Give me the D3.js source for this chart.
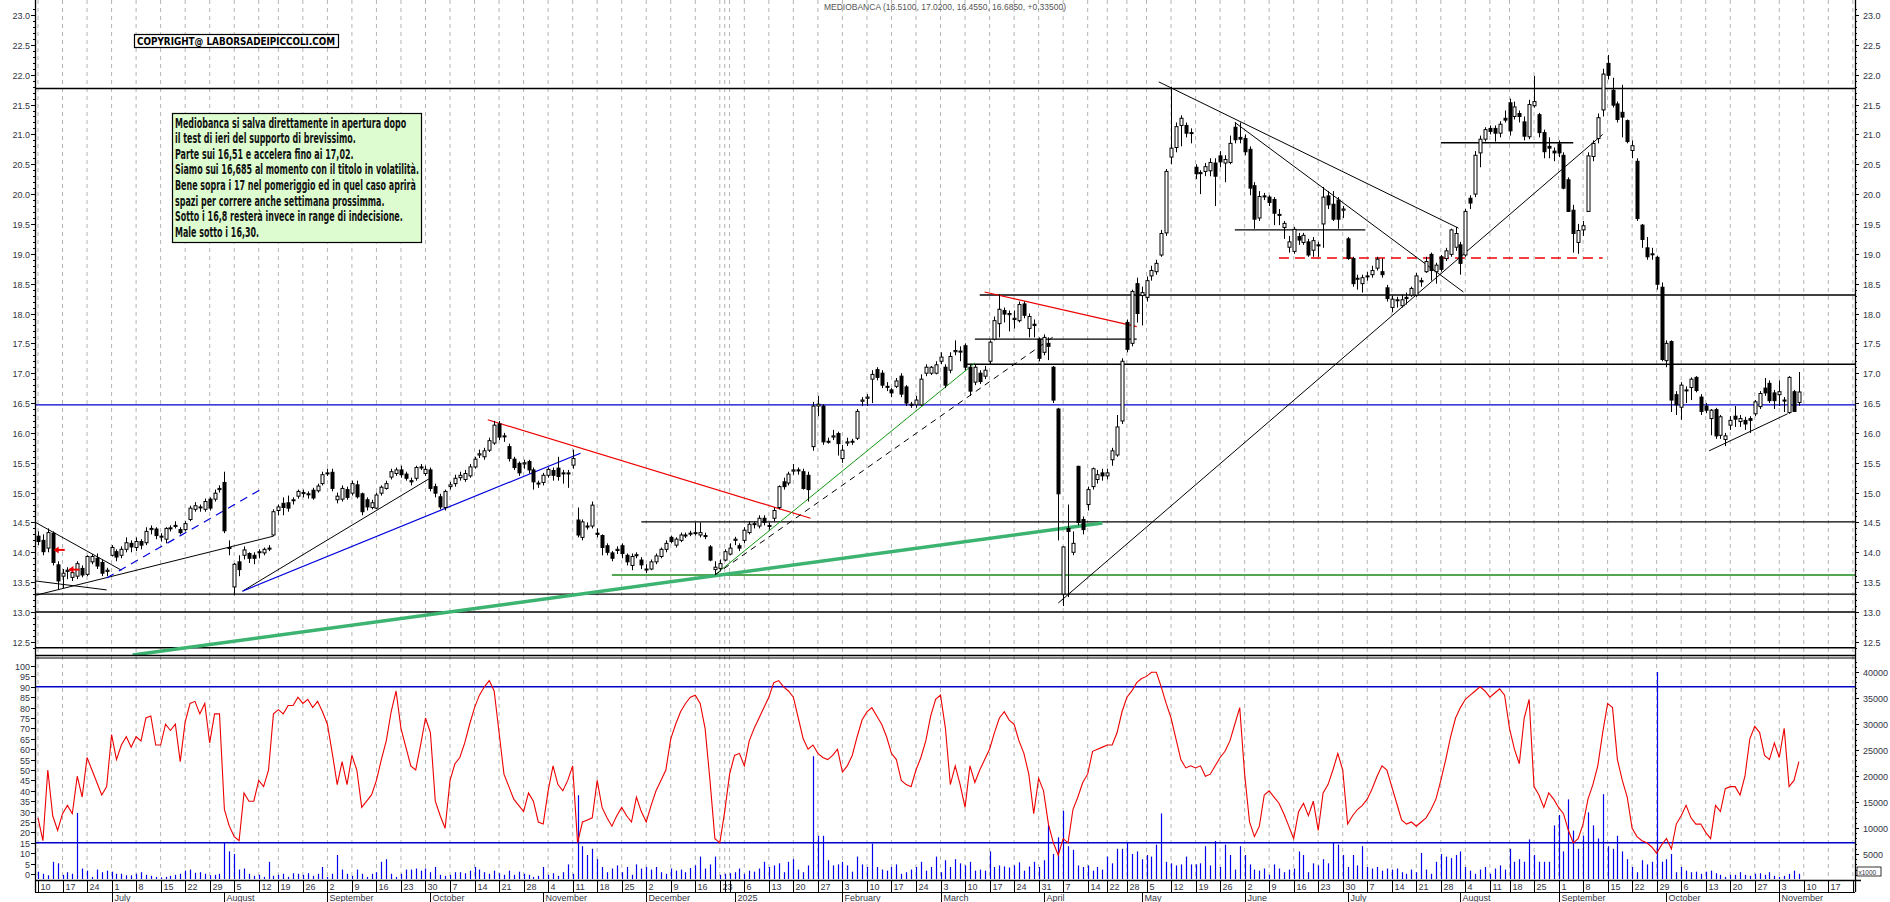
<!DOCTYPE html>
<html><head><meta charset="utf-8">
<script src="https://cdn.jsdelivr.net/npm/d3@7/dist/d3.min.js"></script>
<style>body{margin:0;background:#fff}svg{display:block}</style>
</head><body><svg id="c" width="1890" height="902"></svg>
<script>
// ---------------- DATA ----------------
const startDate = "2024-06-10";
const holidays = ["2024-08-15","2024-12-24","2024-12-25","2024-12-26","2024-12-31","2025-01-01","2025-04-18","2025-04-21","2025-05-01","2025-08-15"];
const title = "MEDIOBANCA (16.5100, 17.0200, 16.4550, 16.6850, +0.33500)";
const copyright = "COPYRIGHT@ LABORSADEIPICCOLI.COM";
const commentLines = [
"Mediobanca si salva direttamente in apertura dopo",
"il test di ieri del supporto di brevissimo.",
"Parte sui 16,51 e accelera fino ai 17,02.",
"Siamo sui 16,685 al momento con il titolo in volatilità.",
"Bene sopra i 17 nel pomeriggio ed in quel caso aprirà",
"spazi per correre anche settimana prossimma.",
"Sotto i 16,8 resterà invece in range di indecisione.",
"Male sotto i 16,30."];
// OHLC [open, high, low, close]
const ohlc = [
[14.27,14.35,14.12,14.18],[14.2,14.3,13.95,14.01],[14.07,14.4,14.0,14.33],[14.32,14.35,13.78,13.83],[13.79,13.85,13.38,13.52],
[13.6,13.72,13.4,13.65],[13.68,13.75,13.55,13.7],[13.58,13.72,13.52,13.66],[13.6,13.85,13.55,13.81],[13.73,13.78,13.58,13.62],
[13.63,13.95,13.6,13.93],[13.84,13.97,13.8,13.93],[13.9,13.98,13.72,13.77],[13.83,13.88,13.6,13.65],[13.68,13.74,13.6,13.7],
[13.95,14.12,13.93,14.08],[14.01,14.05,13.85,13.92],[13.95,14.1,13.9,14.05],[14.05,14.25,14.0,14.16],[14.15,14.2,14.0,14.09],
[14.08,14.25,14.02,14.18],[14.18,14.22,14.05,14.12],[14.16,14.42,14.12,14.35],[14.38,14.45,14.3,14.4],[14.39,14.42,14.22,14.28],
[14.26,14.32,14.18,14.27],[14.22,14.42,14.15,14.4],[14.4,14.45,14.35,14.41],[14.44,14.52,14.4,14.45],[14.38,14.42,14.3,14.33],
[14.38,14.52,14.35,14.48],[14.55,14.78,14.52,14.74],[14.72,14.84,14.68,14.78],[14.75,14.8,14.68,14.76],[14.72,14.9,14.68,14.85],
[14.89,14.92,14.7,14.74],[14.89,15.05,14.85,14.99],[15.05,15.12,15.0,15.07],[15.17,15.35,14.32,14.36],[14.08,14.2,13.95,14.08],
[13.42,13.82,13.28,13.8],[13.84,13.95,13.6,13.71],[13.95,14.1,13.88,14.04],[13.98,14.0,13.82,13.9],[13.95,14.0,13.8,13.9],
[14.0,14.05,13.9,14.01],[13.99,14.08,13.95,14.05],[14.06,14.12,14.02,14.07],[14.29,14.72,14.27,14.68],[14.7,14.8,14.62,14.76],
[14.82,14.92,14.62,14.75],[14.83,14.95,14.68,14.74],[14.87,14.92,14.8,14.88],[14.94,15.05,14.9,15.02],[15.0,15.05,14.92,14.99],
[14.98,15.02,14.9,14.98],[15.04,15.08,14.88,14.91],[15.03,15.15,15.0,15.11],[15.15,15.35,15.12,15.3],[15.32,15.4,15.28,15.33],
[15.34,15.4,15.02,15.07],[14.88,15.0,14.82,14.94],[14.89,15.12,14.85,15.07],[15.05,15.1,14.88,14.92],[14.99,15.2,14.95,15.15],
[15.13,15.2,14.9,14.93],[14.98,15.0,14.62,14.68],[14.88,14.92,14.7,14.76],[14.75,14.88,14.72,14.83],[14.74,15.0,14.72,14.96],
[14.99,15.12,14.95,15.09],[15.07,15.2,15.05,15.15],[15.26,15.4,15.22,15.35],[15.32,15.42,15.28,15.38],[15.38,15.45,15.25,15.3],
[15.31,15.35,15.2,15.24],[15.2,15.25,15.12,15.18],[15.24,15.45,15.2,15.42],[15.42,15.48,15.38,15.43],[15.32,15.45,15.28,15.39],
[15.38,15.42,15.02,15.07],[15.1,15.15,14.92,14.99],
[14.93,14.98,14.72,14.76],[14.75,15.05,14.7,15.02],[15.1,15.18,15.05,15.13],[15.15,15.3,15.1,15.24],[15.25,15.35,15.2,15.29],
[15.22,15.38,15.18,15.32],[15.28,15.48,15.25,15.43],[15.43,15.6,15.4,15.56],[15.63,15.72,15.58,15.65],[15.6,15.75,15.55,15.7],
[15.71,15.92,15.68,15.87],[15.83,16.2,15.8,16.13],[16.15,16.2,15.88,15.93],[15.95,16.0,15.85,15.94],[15.77,15.82,15.52,15.57],
[15.56,15.6,15.38,15.42],[15.49,15.52,15.28,15.33],[15.48,15.55,15.4,15.5],[15.52,15.55,15.32,15.38],[15.38,15.42,15.05,15.18],
[15.15,15.2,15.08,15.16],[15.17,15.33,15.12,15.29],[15.29,15.42,15.25,15.39],[15.37,15.42,15.2,15.29],[15.41,15.6,15.2,15.27],
[15.33,15.38,15.15,15.32],[15.32,15.38,15.08,15.33],[15.46,15.72,15.4,15.57],[14.54,14.75,14.25,14.29],[14.25,14.55,14.2,14.51],
[14.44,14.5,14.38,14.43],[14.44,14.85,14.4,14.79],[14.32,14.4,14.25,14.3],[14.28,14.3,13.95,14.08],[14.11,14.15,13.95,14.0],
[13.99,14.02,13.85,13.9],[14.03,14.1,13.97,14.05],[14.11,14.15,13.9,13.98],[13.95,13.98,13.78,13.84],[13.78,13.98,13.7,13.93],
[13.95,14.0,13.9,13.96],[13.87,13.92,13.72,13.79],[13.72,13.8,13.65,13.71],[13.72,13.88,13.7,13.84],[13.84,13.98,13.8,13.94],
[13.93,14.08,13.9,14.05],[14.05,14.2,14.0,14.15],[14.25,14.28,14.15,14.18],[14.12,14.25,14.08,14.22],[14.2,14.33,14.17,14.29],
[14.28,14.33,14.24,14.29],[14.31,14.36,14.27,14.32],[14.32,14.5,14.28,14.33],[14.29,14.5,14.25,14.33],[14.28,14.33,14.22,14.27],
[14.09,14.12,13.85,13.87],[13.71,13.85,13.62,13.75],[13.73,13.88,13.68,13.81],[13.87,14.05,13.85,14.01],[13.97,14.15,13.95,14.07],
[14.2,14.26,14.12,14.22],[14.11,14.15,14.02,14.07],[14.2,14.42,14.15,14.37],[14.33,14.52,14.3,14.47],[14.47,14.52,14.4,14.48],
[14.44,14.62,14.4,14.57],[14.57,14.62,14.45,14.5],[14.45,14.5,14.38,14.44],[14.57,14.75,14.52,14.7],[14.75,15.12,14.72,15.1],
[15.18,15.25,15.05,15.1],[15.16,15.35,15.12,15.31],[15.36,15.48,15.3,15.38],[15.38,15.42,15.3,15.37],[15.35,15.4,15.05,15.07],
[15.29,15.35,14.85,15.05],[15.77,16.52,15.7,16.45],[16.45,16.62,16.28,16.48],[16.45,16.48,15.8,15.85],[15.86,15.92,15.82,15.85],
[15.93,16.05,15.88,15.95],[15.99,16.02,15.62,15.82],[15.57,15.8,15.5,15.71],[15.83,15.92,15.78,15.85],[15.85,15.9,15.8,15.86],
[15.91,16.4,15.88,16.36],
[16.53,16.6,16.45,16.55],[16.58,16.65,16.45,16.6],[16.9,17.05,16.5,16.98],[17.06,17.1,16.88,16.93],[17.0,17.05,16.75,16.8],
[16.78,16.85,16.7,16.77],[16.72,16.75,16.6,16.67],[16.78,16.92,16.75,16.87],[16.95,17.0,16.6,16.65],[16.77,16.8,16.45,16.5],
[16.48,16.52,16.42,16.47],[16.47,16.62,16.42,16.55],[16.47,16.98,16.45,16.9],[17.0,17.15,16.95,17.1],[17.0,17.12,16.97,17.1],
[17.0,17.2,16.98,17.14],[17.2,17.35,17.15,17.27],[17.1,17.15,16.75,16.8],[17.05,17.35,17.0,17.28],[17.36,17.55,17.3,17.38],
[17.36,17.45,17.2,17.37],[17.46,17.5,17.05,17.1],[17.1,17.15,16.62,16.7],[16.85,17.15,16.8,17.1],[17.0,17.05,16.82,16.86],
[16.95,17.12,16.9,17.05],[17.2,17.55,17.15,17.52],[17.57,17.95,17.55,17.88],[17.83,18.32,17.6,18.07],[18.05,18.1,17.85,17.99],
[17.98,18.05,17.7,18.0],[17.9,18.05,17.75,17.92],[17.88,18.2,17.85,18.15],[18.16,18.2,17.92,17.97],[17.75,18.0,17.6,17.95],
[17.82,17.9,17.6,17.8],[17.57,17.6,17.2,17.25],[17.35,17.65,17.3,17.6],[17.5,17.6,17.22,17.45],[17.1,17.12,16.5,16.55],
[16.4,16.42,14.2,14.98],[13.3,14.1,13.1,14.09],[14.4,14.8,13.25,14.35],[14.0,14.35,13.95,14.15],[15.44,15.45,14.45,14.5],
[14.55,14.6,14.3,14.38],[14.8,15.1,14.7,15.05],[15.1,15.42,15.05,15.4],[15.22,15.38,15.15,15.3],[15.33,15.4,15.2,15.28],
[15.28,15.4,15.22,15.33],[15.55,15.75,15.45,15.7],[15.63,16.3,15.6,16.1],[16.2,17.25,16.15,17.2],[17.85,17.9,17.35,17.4],
[17.5,18.4,17.45,18.37],[18.5,18.6,17.85,18.0],[18.3,18.45,17.8,18.35],[18.27,18.62,18.2,18.55],
[18.63,18.8,18.55,18.72],[18.7,18.9,18.65,18.84],[18.98,19.4,18.95,19.34],[19.35,20.42,19.3,20.38],[20.62,21.8,20.5,20.77],
[20.78,21.2,20.7,21.13],[21.15,21.32,20.8,21.27],[21.15,21.2,20.95,21.02],[21.03,21.1,20.85,21.02],[20.45,20.5,20.25,20.34],
[20.36,20.4,20.0,20.35],[20.38,20.52,20.3,20.46],[20.39,20.6,20.3,20.53],[20.52,20.6,19.8,20.3],[20.64,20.72,20.45,20.54],
[20.52,20.65,20.2,20.58],[20.53,20.98,20.5,20.85],[21.12,21.2,20.85,20.91],[20.95,21.2,20.85,20.92],[20.93,21.0,20.65,20.71],
[20.75,20.8,19.98,20.1],[20.14,20.2,19.42,19.58],[19.6,20.05,19.55,19.96],[19.96,20.02,19.9,19.97],[19.95,19.98,19.8,19.86],
[19.91,19.95,19.48,19.68],[19.66,19.75,19.48,19.65],[19.44,19.55,19.25,19.51],[19.11,19.3,19.02,19.2],[19.04,19.45,19.0,19.41],
[19.29,19.35,19.15,19.23],[19.19,19.35,19.15,19.31],[19.2,19.25,18.95,18.98],[19.06,19.28,18.95,19.22],[19.15,19.2,18.95,19.14],
[19.5,20.12,19.1,19.95],[19.97,20.05,19.75,19.82],[19.83,20.05,19.55,19.58],[19.9,19.95,19.42,19.58],[19.73,19.8,19.6,19.75],
[19.25,19.28,18.9,18.92],[18.92,18.95,18.45,18.5],[18.58,18.65,18.4,18.59],[18.5,18.65,18.35,18.6],[18.62,18.7,18.55,18.63],
[18.65,18.8,18.6,18.72],[18.76,18.95,18.72,18.91],[18.7,18.92,18.6,18.65],[18.43,18.48,18.2,18.25],[18.1,18.3,18.02,18.24],
[18.22,18.28,18.1,18.23],[18.13,18.32,18.1,18.23],[18.27,18.35,18.15,18.25],[18.31,18.45,18.28,18.42],[18.31,18.68,18.28,18.63],
[18.55,18.6,18.45,18.53],[18.7,18.95,18.68,18.87],[18.99,19.02,18.55,18.72],[18.7,18.85,18.5,18.81],[18.95,18.98,18.7,18.74],
[18.92,19.1,18.88,19.05],[18.99,19.42,18.95,19.4],[19.11,19.45,19.05,19.34],[19.15,19.2,18.65,18.84],[18.98,19.75,18.95,19.71],
[19.93,19.98,19.75,19.85],[20.0,20.72,19.95,20.65],[20.69,20.98,20.45,20.92],[20.92,21.12,20.88,21.08],[21.1,21.15,21.0,21.05],
[21.1,21.15,20.88,21.02],[21.02,21.22,20.95,21.17],[21.27,21.4,21.2,21.24],[21.53,21.6,20.98,21.06],[21.3,21.55,21.25,21.46],
[21.35,21.4,21.2,21.3],[21.21,21.3,20.9,20.97],[20.96,21.58,20.92,21.5],[21.48,21.98,21.45,21.55],[21.33,21.36,20.95,21.03],
[21.03,21.08,20.6,20.71],[20.8,20.95,20.6,20.77],[20.72,20.78,20.55,20.69],[20.84,20.9,20.62,20.69],[20.65,20.7,20.08,20.1],
[20.24,20.28,19.7,19.71],[19.73,19.82,19.02,19.34],[19.19,19.5,19.0,19.39],[19.4,19.55,19.3,19.47],[19.71,20.7,19.7,20.64],
[20.63,20.9,20.55,20.85],[20.93,21.35,20.85,21.28],[21.41,22.1,21.3,22.01],[22.19,22.33,21.92,21.99],[21.74,21.95,21.45,21.49],
[21.51,21.55,21.2,21.25],[21.37,21.83,20.95,21.29],[21.23,21.25,20.85,20.88],[20.73,20.9,20.6,20.81],[20.55,20.6,19.55,19.59],
[19.48,19.5,19.1,19.24],[19.1,19.28,18.9,18.95],[19.0,19.1,18.9,19.0],[18.94,18.97,18.4,18.49],[18.44,18.52,17.2,17.23],
[17.21,17.55,17.1,17.5],[17.53,17.55,16.35,16.55],
[16.64,16.7,16.3,16.47],[16.43,16.85,16.22,16.8],[16.72,16.78,16.5,16.71],[16.76,16.93,16.55,16.9],[16.93,16.95,16.68,16.71],
[16.6,16.65,16.3,16.36],[16.45,16.5,16.33,16.38],[16.24,16.4,15.96,16.38],[16.39,16.42,15.9,15.95],[15.96,16.3,15.9,16.27],
[15.89,16.0,15.78,15.95],[16.13,16.28,16.05,16.21],[16.28,16.45,16.1,16.23],[16.19,16.3,16.1,16.24],[16.21,16.27,16.05,16.15],
[16.24,16.28,16.0,16.21],[16.32,16.55,16.28,16.52],[16.44,16.7,16.4,16.66],[16.75,16.92,16.62,16.67],[16.83,16.88,16.5,16.54],
[16.67,16.72,16.4,16.54],[16.64,16.88,16.45,16.69],[16.55,16.6,16.35,16.54],[16.34,16.95,16.32,16.93],[16.69,16.72,16.35,16.36],
[16.51,17.02,16.455,16.685]];
// Stochastic oscillator (red line)
const stoch = [
27,16,50,28,21,29,33,29,47,37, 56,50,44,38,42,67,55,62,66,61, 66,64,75,76,62,62,72,69,72,54,
73,82,83,77,82,63,77,77,31,23, 18,16,39,35,35,45,42,50,77,79, 77,81,81,85,82,84,80,83,78,72,
58,43,54,43,57,50,32,35,38,45, 55,64,78,88,70,61,52,50,62,75, 68,35,28,22,45,53,56,63,72,80,
86,90,93,88,68,48,42,36,33,30, 39,35,25,24,40,52,43,40,45,52, 15,25,26,27,45,32,27,23,28,32,
28,25,37,30,25,33,40,45,50,65, 72,78,82,85,86,82,70,45,17,15, 30,48,57,58,52,64,70,75,80,85,
92,93,90,88,85,75,65,60,62,58, 56,55,57,60,49,52,57,66,74,78, 80,76,72,66,58,55,45,43,42,50,
56,64,76,84,86,70,43,52,43,32, 52,44,50,55,60,68,75,78,74,72, 64,58,48,29,46,40,24,15,9,17,
15,31,37,44,48,59,60,61,62,62, 68,78,85,88,92,94,95,97,97,90, 82,75,65,55,51,52,51,52,47,48,
52,56,59,64,72,80,48,25,18,23, 38,40,37,34,29,23,17,30,34,28, 35,21,39,43,50,58,50,24,28,31,
33,36,41,47,52,50,42,34,26,24, 25,23,25,27,31,36,45,55,66,75, 80,84,86,88,90,88,85,87,89,86,
70,60,53,75,84,42,38,32,39,36, 32,29,21,15,17,24,36,43,52,68, 82,80,55,45,37,22,18,16,15,13,
10,14,17,12,24,28,33,27,24,24, 20,17,33,30,41,42,42,38,47,65, 71,68,57,55,63,56,70,42,45,54];
// Volume, thousands of shares
const volume = [
1.6,1.2,0.9,3.5,3.2,1.0,1.5,1.2,12.9,2.2, 1.8,0.6,2.0,1.5,1.8,1.6,1.2,1.2,0.9,0.9,
1.2,1.5,1.0,0.8,0.6,0.5,0.6,0.8,1.0,1.2, 1.8,2.0,1.4,1.5,1.2,0.9,1.0,1.2,7.2,5.5,
5.0,2.0,2.2,1.2,0.8,1.0,0.6,3.5,0.8,1.0, 1.2,0.6,1.3,1.2,1.0,1.3,0.8,1.2,2.5,0.6,
1.2,4.8,2.0,1.2,0.8,2.0,1.2,0.6,1.2,1.5, 3.5,4.0,1.2,0.6,1.2,2.0,2.0,2.2,1.8,2.2,
1.5,2.5,1.0,0.8,1.0,1.5,1.5,1.3,1.8,2.5, 2.0,1.5,1.2,1.8,1.3,1.0,1.8,1.0,1.6,1.2,
1.0,0.6,0.8,2.5,1.0,1.3,0.8,1.5,3.0,1.2, 16.3,6.5,4.8,6.0,4.0,2.5,1.5,2.2,2.8,1.5,
2.5,1.0,3.0,2.2,2.5,2.0,2.5,1.5,1.2,2.2, 1.8,2.0,1.5,2.3,2.8,4.5,2.2,3.0,4.5,1.0,
1.2,1.3,1.5,2.2,1.2,1.8,1.6,2.2,3.5,2.5, 2.8,3.2,1.5,3.5,4.0,2.0,1.5,2.8,23.8,8.5,
8.5,3.8,2.8,3.0,3.5,2.8,1.6,4.5,3.0,2.5, 7.0,2.5,2.0,1.8,2.5,3.0,1.2,1.5,2.0,2.5,
3.5,1.8,2.5,4.5,1.5,3.8,2.5,4.0,3.2,2.8, 3.5,1.8,2.0,1.8,5.5,2.5,2.8,2.6,2.4,2.8,
3.4,1.8,2.6,3.5,2.5,3.8,10.5,5.0,8.2,13.3, 6.5,5.8,2.8,2.5,2.8,1.8,2.5,2.0,4.5,3.2,
6.0,6.0,7.2,5.0,5.5,4.0,4.8,4.5,6.8,12.8, 3.5,3.2,2.8,3.0,4.5,3.0,3.0,3.2,6.5,2.8,
7.5,2.5,6.8,4.8,2.0,6.5,4.8,3.0,2.0,1.8, 2.2,1.0,3.0,2.2,1.5,2.0,2.2,5.5,4.8,1.5,
3.2,2.8,4.0,3.2,7.2,6.8,4.8,2.5,4.8,2.8, 6.5,2.5,2.2,2.5,1.8,2.2,2.0,2.2,1.5,1.2,
2.0,1.5,5.2,2.0,1.2,3.5,5.0,4.5,4.2,4.8, 5.5,2.5,1.8,1.2,2.0,2.5,1.2,2.2,2.8,2.0,
6.0,3.5,4.0,3.5,7.8,4.8,3.5,3.5,3.5,10.5, 12.5,5.5,15.5,9.5,6.0,8.5,13.0,10.5,8.0,16.5,
6.5,6.0,8.5,5.5,4.0,2.5,1.5,3.8,3.0,3.5, 40.0,3.5,4.0,5.0,1.5,2.5,1.8,1.5,1.6,1.2,
1.6,1.8,1.3,1.0,0.6,1.0,1.0,1.5,1.0,0.8, 1.2,1.3,1.0,1.5,0.8,0.6,0.8,1.2,1.8,1.2];
// horizontal levels: [value, fromIndex, toIndex] (null = chart edge)
const blackLevels = [[21.77,null,null],[18.31,192,null],[17.15,189,null],[17.57,191,224],[14.51,123,null],[13.3,null,null],[13.0,null,null],[12.4,null,null],[19.4,244,270.6],[20.86,286,313]];
const blueLevels = [[16.47,null,null]];
const greenLevels = [[13.62,117,null]];
const redDashLevels = [[18.93,253,319]];
// trend lines: [i1, v1, i2, v2]
const blackTrends = [[-0.5,14.5,17,13.7],[-0.5,13.52,14,13.37],[-0.5,13.28,48,14.27],[41.7,13.35,79.7,15.23],[208,13.15,319,21.0],[228.5,21.88,289.6,19.43],[244,21.2,290.6,18.36],[340.7,15.7,356.7,16.32]];
const blueTrends = [[41.7,13.35,110.6,15.66]];
const blueDashTrends = [[14,13.57,46,15.08]];
const redTrends = [[91.7,16.22,157.5,14.57],[193,18.36,224,17.78]];
const greenThickTrends = [[19.3,12.28,217,14.49]];
const greenThinTrends = [[138,13.62,191,17.17]];
const blackDashTrends = [[138,13.62,207.7,17.65]];
const redArrows = [[3,14.04],[6,13.71]];
const stochLevels = [90,15];

// ---------------- CALENDAR ----------------
const hol = new Set(holidays);
const days = [];
{ let d = new Date(startDate+"T12:00:00Z");
  while (days.length < 375) {
    const wd = d.getUTCDay(), s = d.toISOString().slice(0,10);
    if (wd>0 && wd<6 && !hol.has(s)) days.push(new Date(d));
    d = new Date(d.getTime()+86400000);
  } }

// ---------------- SCALES ----------------
const L = 35, R = 1855;
const x = d3.scaleLinear().domain([0,1]).range([38,38+4.905]);
const y = d3.scaleLinear().domain([13,23]).range([612,15]);
const ys = d3.scaleLinear().domain([0,100]).range([874,666]);
const yv = d3.scaleLinear().domain([0,40]).range([880,672]);
const svg = d3.select("#c");
svg.append("rect").attr("width",1890).attr("height",902).attr("fill","#fff");
const font = "Liberation Sans, Arial, sans-serif";
const narrow = "Liberation Sans Narrow, Arial Narrow, DejaVu Sans Condensed, sans-serif";
svg.append("clipPath").attr("id","pc").append("rect").attr("x",L).attr("y",0).attr("width",R-L).attr("height",655);
svg.append("clipPath").attr("id","lc").append("rect").attr("x",L).attr("y",657).attr("width",R-L).attr("height",223);

// weekly gridlines
const weekStarts = days.map((d,i)=>({d,i})).filter((o,k,a)=>k===0 || o.d.getUTCDay() < a[k-1].d.getUTCDay() || (o.d - a[k-1].d) > 3*86400000);
const grid = svg.append("g");
weekStarts.forEach(o=>{ const xx = x(o.i); if (xx>R) return;
  grid.append("line").attr("x1",xx).attr("x2",xx).attr("y1",0).attr("y2",880).attr("stroke","#b4b4b4").attr("stroke-dasharray","4,4");
});

// ---------------- PRICE PANEL ----------------
const P = svg.append("g").attr("clip-path","url(#pc)");
function levels(arr, color, w, dash){
  arr.forEach(([v,a,b])=>{ P.append("line").attr("x1", a===null?L:x(a)).attr("x2", b===null?R:x(b)).attr("y1",y(v)).attr("y2",y(v))
    .attr("stroke",color).attr("stroke-width",w).attr("stroke-dasharray",dash||null); });
}
function trends(arr, color, w, dash){
  arr.forEach(([a,v1,b,v2])=>{ P.append("line").attr("x1",x(a)).attr("y1",y(v1)).attr("x2",x(b)).attr("y2",y(v2))
    .attr("stroke",color).attr("stroke-width",w).attr("stroke-dasharray",dash||null); });
}
levels(blackLevels,"#000",1.4);
levels(greenLevels,"#1a8a1a",1.4);
levels(blueLevels,"#0000cc",1.4);
levels(redDashLevels,"#ee0000",1.6,"10,6");
trends(greenThickTrends,"#3cb371",3.5);
trends(blackTrends,"#000",1);
trends(blueTrends,"#0000dd",1.2);
trends(blueDashTrends,"#0000dd",1.2,"8,6");
trends(redTrends,"#ee0000",1.2);
trends(greenThinTrends,"#119911",1);
trends(blackDashTrends,"#000",1,"6,5");

// candles
const cg = P.append("g");
ohlc.forEach((c,i)=>{ const [o,h,l,cl]=c, xx = Math.round(x(i))+0.5;
  cg.append("line").attr("x1",xx).attr("x2",xx).attr("y1",y(h)).attr("y2",y(l)).attr("stroke","#000");
  const top = y(Math.max(o,cl)), bot = y(Math.min(o,cl));
  cg.append("rect").attr("x",xx-1.5).attr("y",top).attr("width",3).attr("height",Math.max(1,bot-top))
    .attr("fill", cl>=o ? "#fff" : "#000").attr("stroke","#000").attr("stroke-width",1);
});
redArrows.forEach(([i,v])=>{ const x0 = x(i)+2, yy=y(v);
  P.append("line").attr("x1",x0).attr("x2",x0+10).attr("y1",yy).attr("y2",yy).attr("stroke","#ee0000").attr("stroke-width",2);
  P.append("path").attr("d",`M${x0-1},${yy} L${x0+4},${yy-3.5} L${x0+4},${yy+3.5}Z`).attr("fill","#ee0000");
});
svg.append("line").attr("x1",L).attr("x2",R).attr("y1",655.5).attr("y2",655.5).attr("stroke","#000").attr("stroke-width",1.5);

// ---------------- LOWER PANEL ----------------
const Lp = svg.append("g").attr("clip-path","url(#lc)");
volume.forEach((v,i)=>{ const xx=Math.round(x(i))+0.5;
  Lp.append("line").attr("x1",xx).attr("x2",xx).attr("y1",879).attr("y2",yv(v)).attr("stroke","#0000ee").attr("stroke-width",1.2); });
stochLevels.forEach(v=> Lp.append("line").attr("x1",L).attr("x2",R).attr("y1",ys(v)).attr("y2",ys(v)).attr("stroke","#0000cc").attr("stroke-width",1.4));
Lp.append("path").datum(stoch).attr("fill","none").attr("stroke","#ee0000").attr("stroke-width",1.1)
  .attr("d", d3.line().x((d,i)=>x(i)).y(d=>ys(d)));

// ---------------- AXES ----------------
const ax = svg.append("g").attr("font-family",font).attr("font-size",9).attr("fill","#334");
ax.append("line").attr("x1",L+0.5).attr("x2",L+0.5).attr("y1",0).attr("y2",892).attr("stroke","#000").attr("stroke-width",1.3);
ax.append("line").attr("x1",R+0.5).attr("x2",R+0.5).attr("y1",0).attr("y2",892).attr("stroke","#000").attr("stroke-width",1.3);
d3.range(123,232).map(v=>v/10).forEach(v=>{ const yy = Math.round(y(v))+0.5; if (yy>653) return;
  const major = Math.abs(v*2-Math.round(v*2))<1e-6;
  ax.append("line").attr("x1",L-(major?4:2)).attr("x2",L).attr("y1",yy).attr("y2",yy).attr("stroke","#000");
  ax.append("line").attr("x1",R).attr("x2",R+(major?4:2)).attr("y1",yy).attr("y2",yy).attr("stroke","#000");
  if (major && v>=12.5) { ax.append("text").attr("x",L-5).attr("y",yy+3).attr("text-anchor","end").text(v.toFixed(1));
    ax.append("text").attr("x",R+8).attr("y",yy+3).text(v.toFixed(1)); }
});
d3.range(0,101,5).forEach(v=>{ const yy=Math.round(ys(v))+0.5;
  ax.append("line").attr("x1",L-4).attr("x2",L).attr("y1",yy).attr("y2",yy).attr("stroke","#000");
  ax.append("text").attr("x",L-5).attr("y",yy+3).attr("text-anchor","end").text(v); });
d3.range(1,43).forEach(v=>{ const yy=Math.round(yv(v))+0.5; if (yy<660) return; const major = v%5===0;
  ax.append("line").attr("x1",R).attr("x2",R+(major?4:2)).attr("y1",yy).attr("y2",yy).attr("stroke","#000");
  if (major) ax.append("text").attr("x",R+8).attr("y",yy+3).text(v*1000); });
ax.append("rect").attr("x",R+2).attr("y",867).attr("width",24).attr("height",9).attr("fill","#fff").attr("stroke","#000").attr("stroke-width",0.8);
ax.append("text").attr("x",R+3.5).attr("y",874.5).attr("font-size",6.5).text("x1000");
svg.append("line").attr("x1",L).attr("x2",R).attr("y1",658).attr("y2",658).attr("stroke","#000").attr("stroke-width",1.2);
// date axis
ax.append("line").attr("x1",L).attr("x2",R+6).attr("y1",880.5).attr("y2",880.5).attr("stroke","#000").attr("stroke-width",1.5);
ax.append("line").attr("x1",L).attr("x2",R).attr("y1",892.5).attr("y2",892.5).attr("stroke","#000").attr("stroke-width",1.2);
weekStarts.forEach((o,k)=>{ const xx=Math.round(x(o.i))+0.5; if (xx>R) return;
  ax.append("line").attr("x1",xx).attr("x2",xx).attr("y1",880).attr("y2",892).attr("stroke","#000");
  const prev = weekStarts[k-1];
  if (prev && o.i - prev.i < 3) return;           // too close to previous label
  if (xx+8<R) ax.append("text").attr("x",xx+2).attr("y",890).text(o.d.getUTCDate()); });
days.forEach((d,i)=>{ if (i===0 || d.getUTCMonth()===days[i-1].getUTCMonth()) return;
  const xx=Math.round(x(i))+0.5; if (xx>R) return;
  ax.append("line").attr("x1",xx).attr("x2",xx).attr("y1",892).attr("y2",902).attr("stroke","#000");
  const m=d.getUTCMonth();
  ax.append("text").attr("x",xx+2).attr("y",901).text(m===0 ? String(d.getUTCFullYear()) : d.toLocaleString("en-US",{month:"long",timeZone:"UTC"}));
});

// ---------------- TEXTS ----------------
svg.append("text").attr("x",945).attr("y",10).attr("text-anchor","middle").attr("font-family",font).attr("font-size",8.5).attr("fill","#555").text(title);
const cb = svg.append("g");
cb.append("rect").attr("x",134.5).attr("y",34.5).attr("width",204).attr("height",13).attr("fill","#fff").attr("stroke","#000").attr("stroke-width",1.2);
cb.append("text").attr("x",137).attr("y",44.5).attr("font-family",narrow).attr("font-weight","bold").attr("font-size",10.5)
  .attr("textLength",198).attr("lengthAdjust","spacingAndGlyphs").text(copyright);
const tb = svg.append("g");
tb.append("rect").attr("x",172.5).attr("y",113.5).attr("width",249).attr("height",129).attr("fill","#ddfdd0").attr("stroke","#000").attr("stroke-width",1.2);
const tnodes = commentLines.map((t,k)=> tb.append("text").attr("x",175).attr("y",127.5+k*15.6).attr("font-family",narrow).attr("font-weight","bold").attr("font-size",14).attr("fill","#111").text(t));
const maxW = d3.max(tnodes, n=>n.node().getComputedTextLength());
const kf = 244/maxW;
tnodes.forEach(n=>{ const w=n.node().getComputedTextLength(); n.attr("textLength",w*kf).attr("lengthAdjust","spacingAndGlyphs"); });
</script></body></html>
